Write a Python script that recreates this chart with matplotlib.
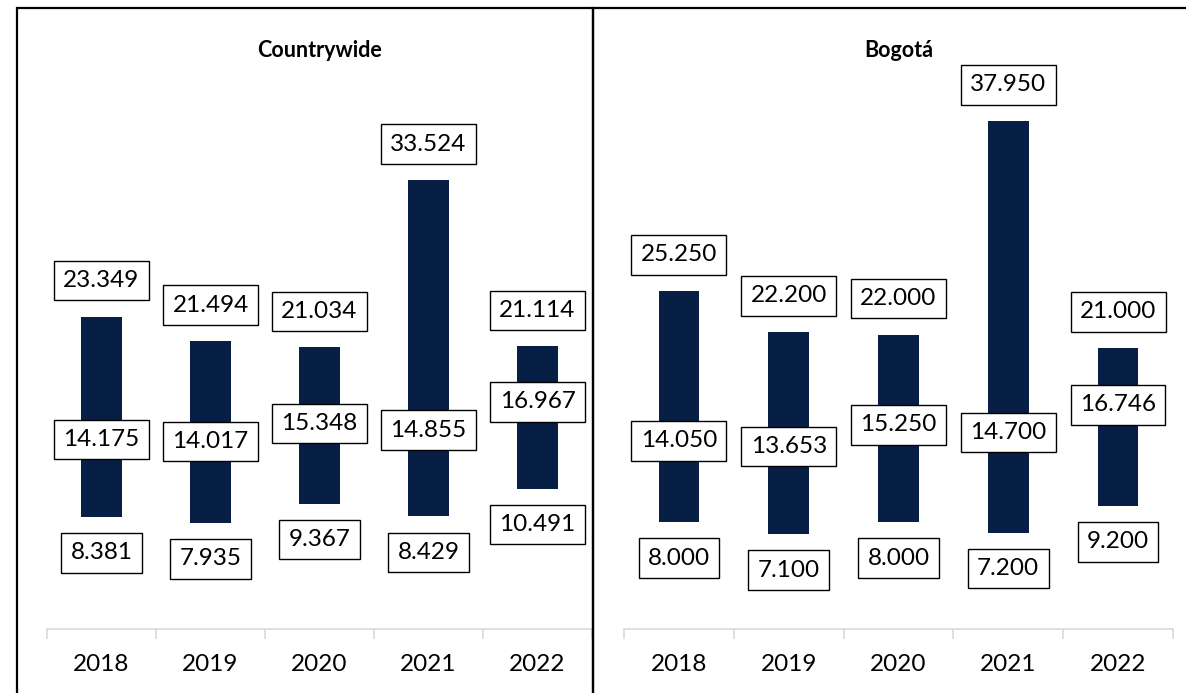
import matplotlib
matplotlib.use("Agg")
import matplotlib.pyplot as plt
from matplotlib.patches import Rectangle

years = ["2018", "2019", "2020", "2021", "2022"]

country_min = [8.381, 7.935, 9.367, 8.429, 10.491]
country_med = [14.175, 14.017, 15.348, 14.855, 16.967]
country_max = [23.349, 21.494, 21.034, 33.524, 21.114]

bogota_min = [8.000, 7.100, 8.000, 7.200, 9.200]
bogota_med = [14.050, 13.653, 15.250, 14.700, 16.746]
bogota_max = [25.250, 22.200, 22.000, 37.950, 21.000]

panels = [
    ("Countrywide", country_min, country_med, country_max),
    ("Bogotá", bogota_min, bogota_med, bogota_max),
]

plt.rcParams['font.family'] = ['Lato', 'DejaVu Sans']

W, H = 1186, 693
fig = plt.figure(figsize=(W / 100, H / 100), dpi=100)
bar_color = "#071f44"


def fmt(v):
    return f"{v:.3f}"


box = dict(boxstyle="square,pad=0.38", fc="white", ec="black", lw=1)

# panel frames (pixel coords)
for x0, x1 in [(17, 593), (593, 1190)]:
    fig.patches.append(Rectangle((x0 / W, -0.01), (x1 - x0) / W, 1.01 - 8 / H,
                                 transform=fig.transFigure, fill=False,
                                 ec="black", lw=1.6, zorder=10))

axes_px = [(47, 592), (624, 1173)]
bottom = (H - 629) / H
top = (H - 8) / H

for (x0, x1), (name, lo, med, hi) in zip(axes_px, panels):
    ax = fig.add_axes([x0 / W, bottom, (x1 - x0) / W, top - bottom])
    xs = range(len(years))
    ax.bar(xs, [h - l for h, l in zip(hi, lo)], bottom=lo, width=0.37,
           color=bar_color, zorder=2)
    for i in xs:
        ax.annotate(fmt(hi[i]), (i, hi[i]), xytext=(0, 26), textcoords="offset points",
                    ha="center", va="center", fontsize=17.5, bbox=box, zorder=3)
        ax.annotate(fmt(med[i]), (i, med[i]), ha="center", va="center",
                    fontsize=17.5, bbox=box, zorder=3)
        ax.annotate(fmt(lo[i]), (i, lo[i]), xytext=(0, -26), textcoords="offset points",
                    ha="center", va="center", fontsize=17.5, bbox=box, zorder=3)
    ax.set_xlim(-0.5, len(years) - 0.5)
    ax.set_ylim(0, 46.4)
    ax.set_xticks(list(xs))
    ax.set_xticklabels(years, fontsize=17.5)
    ax.set_xticks([i - 0.5 for i in range(len(years) + 1)], minor=True)
    ax.tick_params(axis="x", which="major", length=0, pad=18)
    ax.tick_params(axis="x", which="minor", length=7, color="#d9d9d9", width=1.2)
    ax.set_yticks([])
    for s in ["top", "left", "right"]:
        ax.spines[s].set_visible(False)
    ax.spines["bottom"].set_color("#d9d9d9")
    ax.spines["bottom"].set_linewidth(1.2)
    ax.patch.set_alpha(0)
    ax.text(0.5, 0.932, name, transform=ax.transAxes, ha="center", va="center",
            fontsize=15.5, fontweight="bold")

fig.savefig("out.png", dpi=100)
